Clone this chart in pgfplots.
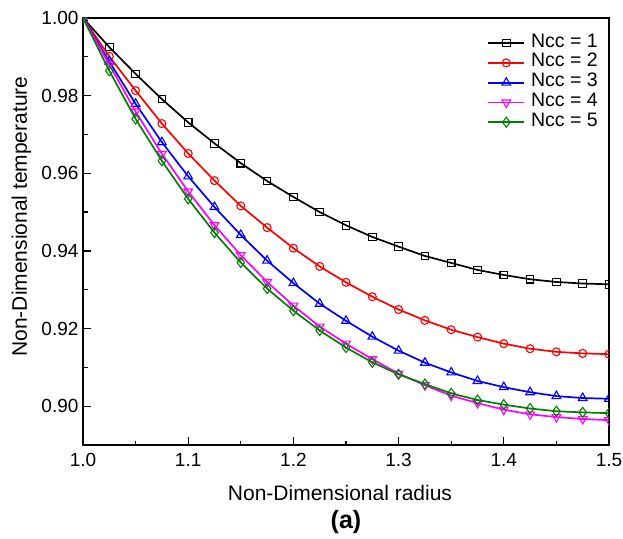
\documentclass[border=0pt]{standalone}
\usepackage{pgfplots}
\pgfplotsset{compat=1.18}
\usepackage{pgfplotstable}
\usepackage{fontspec}
\setmainfont{Liberation Sans}
\usetikzlibrary{calc}

\definecolor{ncgreen}{RGB}{0,128,0}
\definecolor{ncmag}{RGB}{255,0,255}

% radius  Ncc=1   Ncc=2   Ncc=3   Ncc=4   Ncc=5
\pgfplotstableread{
x      n1      n2      n3      n4      n5
1.000  1.0000  1.0000  1.0000  1.0000  1.0000
1.025  0.9925  0.9901  0.9888  0.9880  0.9864
1.050  0.9856  0.9813  0.9779  0.9759  0.9740
1.075  0.9791  0.9728  0.9680  0.9650  0.9632
1.100  0.9731  0.9651  0.9592  0.9553  0.9534
1.125  0.9677  0.9581  0.9513  0.9466  0.9447
1.150  0.9626  0.9516  0.9441  0.9389  0.9370
1.175  0.9580  0.9460  0.9375  0.9320  0.9303
1.200  0.9539  0.9407  0.9317  0.9259  0.9246
1.225  0.9500  0.9360  0.9264  0.9205  0.9195
1.250  0.9466  0.9319  0.9220  0.9161  0.9151
1.275  0.9436  0.9282  0.9179  0.9121  0.9113
1.300  0.9411  0.9249  0.9143  0.9084  0.9082
1.325  0.9387  0.9221  0.9112  0.9054  0.9057
1.350  0.9369  0.9197  0.9087  0.9027  0.9033
1.375  0.9351  0.9178  0.9065  0.9008  0.9016
1.400  0.9338  0.9161  0.9049  0.8991  0.9004
1.425  0.9327  0.9148  0.9036  0.8979  0.8994
1.450  0.9320  0.9140  0.9026  0.8972  0.8987
1.475  0.9316  0.9136  0.9021  0.8967  0.8984
1.500  0.9314  0.9134  0.9019  0.8964  0.8982
}\tempdata

\begin{document}
\begin{tikzpicture}
\begin{axis}[
  name=ax,
  scale only axis,
  width=526pt, height=427pt,
  xmin=1.0, xmax=1.5, ymin=0.89, ymax=1.00,
  xtick={1.0,1.1,...,1.5},
  ytick={0.90,0.92,...,1.00},
  minor x tick num=1, minor y tick num=1,
  tick pos=left,
  tick align=inside,
  major tick length=8pt, minor tick length=4.5pt,
  axis line style={line width=1.4pt},
  every tick/.style={line width=1.2pt, black},
  /pgf/number format/assume math mode=true,
  tick label style={font=\fontsize{19}{22}\selectfont},
  xticklabel style={yshift=-5pt, /pgf/number format/.cd, fixed, fixed zerofill, precision=1},
  yticklabel style={xshift=-1pt, /pgf/number format/.cd, fixed, fixed zerofill, precision=2},
  xlabel={Non-Dimensional radius},
  ylabel={Non-Dimensional temperature},
  label style={font=\fontsize{21}{24}\selectfont},
  x label style={at={(axis description cs:0.5,0)}, anchor=base, yshift=-55pt, xshift=-6pt},
  % the label is turned by 90 degrees, so its shifts act in the turned frame
  y label style={at={(axis description cs:0,0.5)}, anchor=base, yshift=56pt, xshift=15pt},
  clip marker paths=true,
  every axis plot/.append style={line width=1.7pt},
  legend cell align=left,
  legend image code/.code={\draw[mark repeat=2,mark phase=2,#1] plot coordinates {(0pt,0pt) (18pt,0pt) (36pt,0pt)};},
  legend style={at={(1,1)}, anchor=north east, xshift=-11pt, yshift=-15pt,
    draw=none, fill=none, inner sep=0pt, column sep=6pt,
    font=\fontsize{19.5}{22}\selectfont,
    nodes={inner sep=0pt, text height=14pt, text depth=5.8pt}},
]
\addplot[black, mark=square, mark size=3.8pt, mark options={fill=white, line width=1.1pt}] table[x=x, y=n1] {\tempdata};
\addlegendentry{Ncc = 1}
\addplot[red, mark=o, mark size=4pt, mark options={fill=white, line width=1.1pt}] table[x=x, y=n2] {\tempdata};
\addlegendentry{Ncc = 2}
\addplot[blue, mark=triangle, mark size=5pt, mark options={fill=white, line width=1.1pt}] table[x=x, y=n3] {\tempdata};
\addlegendentry{Ncc = 3}
\addplot[ncmag, mark=triangle, mark size=5pt, mark options={rotate=180, fill=white, line width=1.1pt}] table[x=x, y=n4] {\tempdata};
\addlegendentry{Ncc = 4}
\addplot[ncgreen, mark=diamond, mark size=5pt, mark options={fill=white, line width=1.1pt}] table[x=x, y=n5] {\tempdata};
\addlegendentry{Ncc = 5}
\end{axis}
\node[anchor=base, font=\bfseries\fontsize{25}{28}\selectfont] at ($(ax.south)+(0pt,-83pt)$) {(a)};
\pgfresetboundingbox
\path ($(ax.south west)+(-83pt,-93pt)$) rectangle ($(ax.north east)+(14pt,18pt)$);
\end{tikzpicture}
\end{document}
